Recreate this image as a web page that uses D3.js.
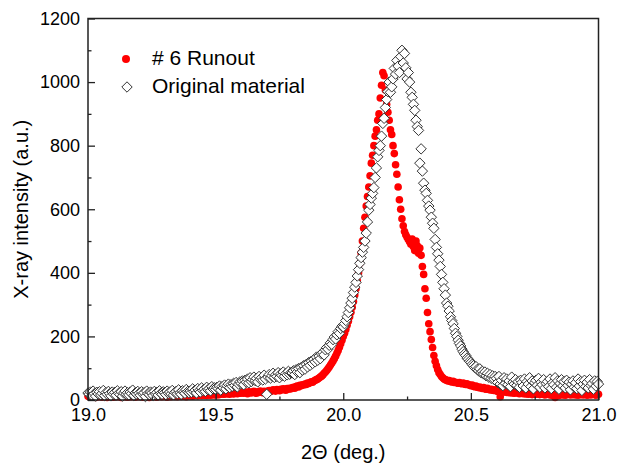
<!DOCTYPE html>
<html>
<head>
<meta charset="utf-8">
<script src="https://cdn.jsdelivr.net/npm/d3@7"></script>
<style>
  html, body { margin: 0; padding: 0; background: #fff; }
  svg { display: block; font-family: "Liberation Sans", Arial, sans-serif; }
</style>
</head>
<body>
<svg id="chart" width="620" height="465"></svg>
<script>
// ---- data ----
const angleStart = 19.0;   // 2Theta of first sample (deg.)
const angleStep = 0.005;   // instrument step (deg.)
const seriesNames = ["# 6 Runout", "Original material"];
const xTicks = [19.0, 19.5, 20.0, 20.5, 21.0];
const xMinorTicks = [19.25, 19.75, 20.25, 20.75];
const yTicks = [0, 200, 400, 600, 800, 1000, 1200];
const yMinorTicks = [100, 300, 500, 700, 900, 1100];

const runoutValues = [
  12,10,14,9,11,13,8,12,10,15,11,9,13,12,10,8,14,11,12,10,
  9,13,11,10,14,12,8,11,13,10,12,9,15,11,10,13,12,9,11,14,
  10,12,13,9,11,15,12,10,8,13,11,14,12,10,9,12,13,11,10,14,
  12,11,9,14,13,10,12,15,11,13,10,12,14,11,16,12,13,10,15,14,
  13,16,12,15,14,17,13,16,15,14,18,15,17,14,16,19,15,17,18,16,
  18,16,20,17,19,21,18,20,19,22,20,18,23,21,19,22,24,20,23,21,
  22,24,21,25,23,20,26,24,22,25,27,23,21,26,24,28,25,23,27,26,
  25,28,30,27,29,32,30,28,33,31,29,34,32,35,33,31,36,34,37,35,
  38,40,37,42,44,41,46,45,48,47,50,49,53,52,55,57,56,60,62,64,
  66,69,72,75,79,84,88,93,98,104,110,116,123,130,138,147,156,166,177,188,
  200,210,222,235,248,262,276,292,310,330,350,375,400,430,462,500,540,575,610,640,
  670,705,745,770,800,830,850,880,900,950,990,1030,1020,975,930,905,880,850,835,800,
  775,740,710,670,630,600,570,548,530,520,512,505,498,490,506,482,470,500,485,462,
  478,455,420,395,350,320,275,240,215,190,165,140,122,108,96,86,80,74,70,66,
  64,62,60,61,58,57,59,55,56,54,53,55,52,51,53,50,49,51,48,47,
  45,47,43,42,44,40,39,41,38,36,39,35,34,37,33,32,34,31,30,32,
  29,27,30,10,28,26,25,27,24,26,23,25,22,24,21,23,25,22,20,23,
  22,20,23,19,21,18,22,20,17,21,19,18,20,22,17,19,21,18,16,20,
  19,17,20,15,18,21,8,19,17,14,18,20,16,19,15,17,20,18,16,19,
  17,20,16,18,15,19,17,21,16,18,20,15,17,19,16,18,20,17,15,19,18
];

const originalValues = [
  22,18,25,15,28,20,12,24,19,26,16,21,30,14,23,18,27,20,13,25,
  19,24,15,29,21,17,26,12,22,28,18,23,16,25,20,31,14,22,19,27,
  21,15,26,19,23,11,28,20,17,25,22,14,27,19,24,16,29,21,18,26,
  23,17,28,21,25,19,30,16,24,27,20,32,22,18,29,25,21,33,26,23,
  28,24,35,27,31,22,36,29,25,38,30,34,27,40,32,36,29,42,35,38,
  33,40,36,44,31,42,38,47,35,45,50,39,48,43,52,46,55,41,50,57,
  52,60,48,62,56,66,54,70,58,64,72,61,68,57,74,65,70,63,78,66,
  18,72,80,69,76,84,71,79,74,86,70,82,77,88,75,83,79,90,81,86,
  85,92,80,95,88,99,86,102,94,108,97,112,104,118,109,122,115,128,120,135,
  125,138,130,145,150,142,158,165,160,172,180,175,190,198,192,205,215,210,225,232,
  230,240,250,262,275,290,305,320,338,355,370,390,410,430,448,465,480,500,525,560,
  597,615,635,650,668,700,730,765,785,800,830,870,886,920,945,970,1000,968,985,1010,
  1043,1025,1068,1050,1030,1080,1100,1060,1090,1045,1010,1030,1000,968,952,930,911,880,860,848,
  745,790,720,682,660,650,628,610,597,575,556,540,505,480,460,440,420,395,370,350,
  330,305,295,280,262,250,240,225,210,200,188,178,170,160,152,145,140,132,128,122,
  118,112,108,102,105,96,92,98,86,90,82,88,76,84,72,80,68,76,66,74,
  68,55,74,50,62,45,70,52,66,48,60,42,72,56,50,64,46,58,40,62,
  55,44,66,38,58,50,70,42,60,35,54,62,46,68,40,56,48,64,38,52,
  58,42,66,36,54,48,70,40,60,34,52,64,44,58,38,62,46,56,32,50,
  60,40,54,36,66,44,58,30,50,62,42,56,38,64,46,52,34,60,44,58,50
];

// ---- chart ----
const svg = d3.select("#chart");
const plotLeft = 88, plotRight = 598.5, plotTop = 18.5, plotBottom = 400;

const x = d3.scaleLinear().domain([19, 21]).range([plotLeft, plotRight]);
const y = d3.scaleLinear().domain([0, 1200]).range([plotBottom, plotTop]);

const toPoints = vals => vals.map((v, i) => ({ a: angleStart + i * angleStep, v }));
const runout = toPoints(runoutValues);
const original = toPoints(originalValues);

const marks = svg.append("g");

marks.append("g").selectAll("circle").data(runout).join("circle")
  .attr("cx", d => x(d.a)).attr("cy", d => y(d.v)).attr("r", 3.8)
  .attr("fill", "#f00");

const R = 5.2;
const diamondPath = `M0,${-R}L${R},0L0,${R}L${-R},0Z`;
marks.append("g").selectAll("path").data(original).join("path")
  .attr("d", diamondPath)
  .attr("transform", d => `translate(${x(d.a)},${y(d.v)})`)
  .attr("fill", "#fff").attr("stroke", "#333").attr("stroke-width", 1);

// axes
const xAxis = d3.axisBottom(x).tickValues(xTicks).tickFormat(d3.format(".1f"))
  .tickSizeInner(-7).tickSizeOuter(0).tickPadding(8);
const gx = svg.append("g").attr("transform", `translate(0,${plotBottom})`).call(xAxis);
gx.select(".domain").remove();
gx.selectAll("text").attr("font-size", 18).attr("fill", "#000").attr("font-family", "Liberation Sans, Arial, sans-serif");
gx.selectAll(".tick line").attr("stroke", "#222").attr("stroke-width", 1.3);

const xMinor = d3.axisBottom(x).tickValues(xMinorTicks).tickFormat("").tickSizeInner(-3.5).tickSizeOuter(0);
const gxm = svg.append("g").attr("transform", `translate(0,${plotBottom})`).call(xMinor);
gxm.select(".domain").remove();
gxm.selectAll(".tick line").attr("stroke", "#222").attr("stroke-width", 1.3);

const yAxis = d3.axisLeft(y).tickValues(yTicks).tickFormat(d3.format("d"))
  .tickSizeInner(-7).tickSizeOuter(0).tickPadding(8);
const gy = svg.append("g").attr("transform", `translate(${plotLeft},0)`).call(yAxis);
gy.select(".domain").remove();
gy.selectAll("text").attr("font-size", 18).attr("fill", "#000").attr("font-family", "Liberation Sans, Arial, sans-serif");
gy.selectAll(".tick line").attr("stroke", "#222").attr("stroke-width", 1.3);

const yMinor = d3.axisLeft(y).tickValues(yMinorTicks).tickFormat("").tickSizeInner(-3.5).tickSizeOuter(0);
const gym = svg.append("g").attr("transform", `translate(${plotLeft},0)`).call(yMinor);
gym.select(".domain").remove();
gym.selectAll(".tick line").attr("stroke", "#222").attr("stroke-width", 1.3);

// frame
svg.append("rect").attr("x", plotLeft).attr("y", plotTop).attr("width", plotRight - plotLeft).attr("height", plotBottom - plotTop)
  .attr("fill", "none").attr("stroke", "#222").attr("stroke-width", 1.5);

// axis titles
svg.append("text").attr("x", (plotLeft + plotRight) / 2).attr("y", 459)
  .attr("text-anchor", "middle").attr("font-size", 20).attr("fill", "#000")
  .text("2\u0398 (deg.)");

svg.append("text").attr("transform", `translate(28,${(plotTop + plotBottom) / 2}) rotate(-90)`)
  .attr("text-anchor", "middle").attr("font-size", 20).attr("fill", "#000")
  .text("X-ray intensity (a.u.)");

// legend
const lg = svg.append("g");
lg.append("circle").attr("cx", 126).attr("cy", 59).attr("r", 4).attr("fill", "#f00");
lg.append("text").attr("x", 152).attr("y", 65).attr("font-size", 21).attr("fill", "#000").text(seriesNames[0]);
lg.append("path").attr("d", diamondPath).attr("transform", "translate(127,87)")
  .attr("fill", "#fff").attr("stroke", "#333").attr("stroke-width", 1);
lg.append("text").attr("x", 152).attr("y", 93).attr("font-size", 21).attr("fill", "#000").text(seriesNames[1]);
</script>
</body>
</html>
